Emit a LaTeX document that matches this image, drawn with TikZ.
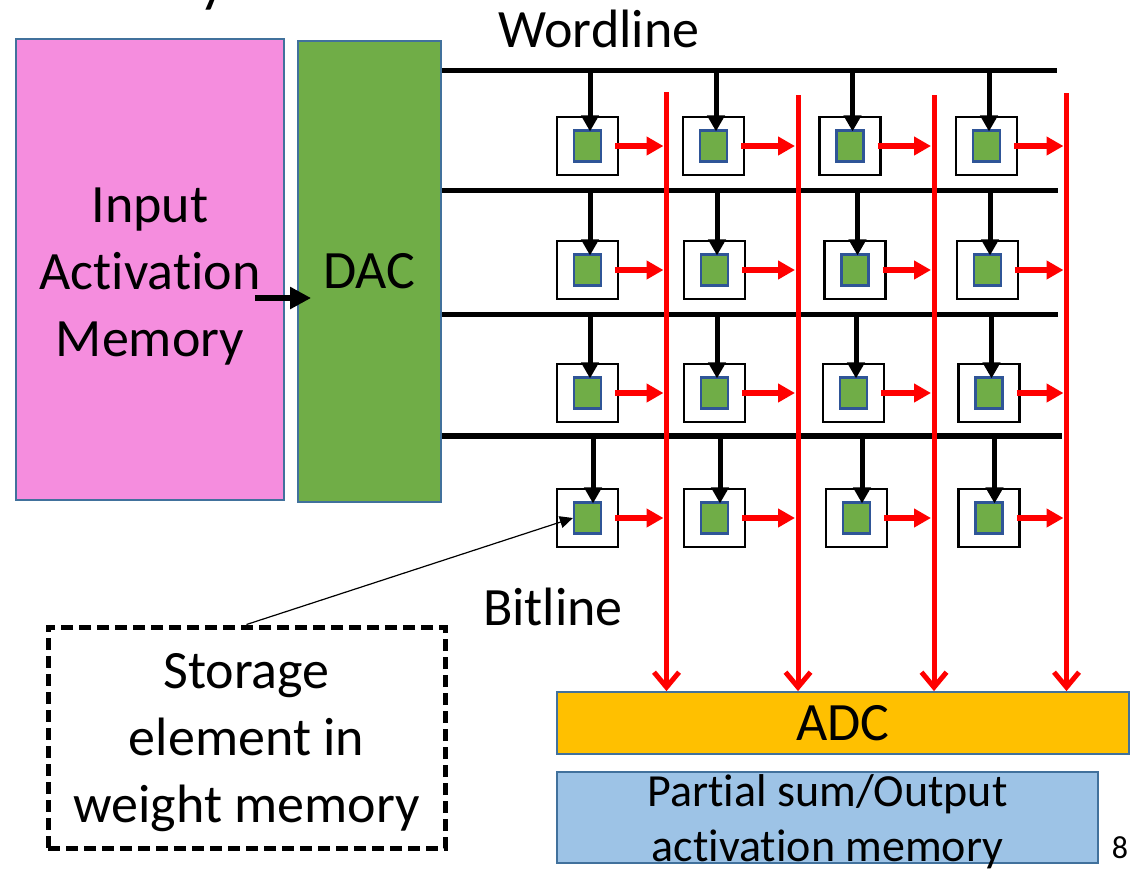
\documentclass[tikz,border=0pt]{standalone}
\usepackage{fontspec}
\setmainfont{Carlito}[Ligatures=NoCommon]
\usetikzlibrary{arrows.meta}

\definecolor{memPink}{RGB}{245,141,222}
\definecolor{dacGreen}{RGB}{112,173,71}
\definecolor{edgeBlue}{RGB}{65,113,156}
\definecolor{cellEdge}{RGB}{47,85,151}
\definecolor{adcOrange}{RGB}{255,192,0}
\definecolor{outBlue}{RGB}{157,195,230}
\definecolor{lineRed}{RGB}{255,0,0}

\begin{document}
\begin{tikzpicture}[x=1pt,y=-1pt,
  big/.style={font=\fontsize{54}{67}\selectfont, inner sep=0pt, align=center},
  block/.style={draw=edgeBlue, line width=1.8pt, inner sep=0pt},
  cellbox/.style={draw=black, line width=2.5pt, fill=white, minimum width=61pt, minimum height=58pt, inner sep=0pt},
  store/.style={draw=cellEdge, line width=2.2pt, fill=dacGreen, minimum width=27pt, minimum height=31pt, inner sep=0pt},
  wordline/.style={line width=5.5pt},
  drive/.style={line width=5pt, -{Triangle[length=16pt,width=17pt]}},
  sense/.style={lineRed, line width=6pt, -{Triangle[length=17pt,width=18pt]}},
  bitline/.style={lineRed, line width=5pt, -{Straight Barb[length=15pt,width=25pt]}},
  feed/.style={line width=6.5pt, -{Triangle[length=21pt,width=21pt]}},
  pointer/.style={line width=1.2pt, -{Triangle[length=13pt,width=12pt]}},
  noteframe/.style={draw=black, line width=5pt, dash pattern=on 12pt off 6pt, minimum width=397pt, minimum height=221pt, inner sep=0pt}
]
\fill[white] (0,0) rectangle (1140,868);
\useasboundingbox (0,0) rectangle (1140,868);

% tail of the heading letter above the frame
\node[font=\fontsize{60}{72}\selectfont, anchor=base west, inner sep=0pt] (heading-tail) at (199,0) {y};

% memory and converter blocks
\node[block, fill=memPink, minimum width=268pt, minimum height=461pt] (iam) at (150,269.5) {};
\node[big] (iam-text) at (150,277) {Input\\Activation\\Memory};
\node[block, fill=dacGreen, minimum width=143pt, minimum height=461pt, font=\fontsize{54}{67}\selectfont] (dac) at (369.5,271.5) {DAC};
\node[block, fill=adcOrange, minimum width=572pt, minimum height=62pt, font=\fontsize{54}{67}\selectfont] (adc) at (843,723) {ADC};
\node[block, fill=outBlue, minimum width=541pt, minimum height=91pt] (psum) at (827.5,817.5) {};
\node[font=\fontsize{46}{55}\selectfont, inner sep=0pt, align=center] (psum-text) at (827.5,822) {Partial sum/Output\\activation memory};

\coordinate (feed-start) at (255,298);
\draw[feed] (feed-start) -- ([xshift=14pt]dac.west |- feed-start);

% labels
\node[big, anchor=base] (wl-label) at (599,47) {Wordline};
\node[big, anchor=base] (bl-label) at (553,625) {Bitline};
\node[font=\fontsize{32}{38}\selectfont, anchor=base, inner sep=0pt] (page-no) at (1120,858) {8};

% crossbar cells
\foreach \r/\c/\x/\y in {
  1/1/587.5/146, 1/2/713.5/146, 1/3/850/146,   1/4/986.5/146,
  2/1/587.5/270, 2/2/714.5/270, 2/3/855/270,   2/4/987.5/270,
  3/1/587.5/393, 3/2/714.5/393, 3/3/853.5/393, 3/4/989/393,
  4/1/587.5/518, 4/2/714.5/518, 4/3/856.5/518, 4/4/989/518} {
  \node[cellbox] (cell-\r-\c) at (\x,\y) {};
  \node[store] (w-\r-\c) at (\x,\y) {};
}

% wordlines
\foreach \r/\y/\e in {1/70.5/1057, 2/190.5/1058, 3/314.5/1058, 4/436/1062} {
  \coordinate (wl-\r) at (\e,\y);
  \draw[wordline] (dac.east |- wl-\r) -- (wl-\r);
}

% wordline taps into the cells
\foreach \r/\d in {1/2.5, 2/2.5, 3/2.5, 4/5.5} {
  \foreach \c in {1,...,4} {
    \draw[drive] ([xshift=\d pt]w-\r-\c.north |- wl-\r) -- ([xshift=\d pt, yshift=-2pt]w-\r-\c.north);
  }
}

% bitlines down to the ADC
\foreach \b/\x/\t in {1/666.5/92, 2/798/95, 3/934/95, 4/1066.5/93} {
  \coordinate (bl-\b) at (\x,\t);
  \draw[bitline] (bl-\b) -- (bl-\b |- adc.north);
}

% cell outputs onto the bitlines
\foreach \r in {1,...,4} {
  \foreach \c in {1,...,4} {
    \draw[sense] ([xshift=-4pt]cell-\r-\c.east) -- ([xshift=-3pt]bl-\c |- cell-\r-\c.east);
  }
}

% callout
\node[noteframe] (note) at (246.5,737.5) {};
\node[big] (note-text) at (246.5,743) {Storage\\element in\\weight memory};
\draw[pointer] (note.north) -- (w-4-1.west);
\end{tikzpicture}
\end{document}
